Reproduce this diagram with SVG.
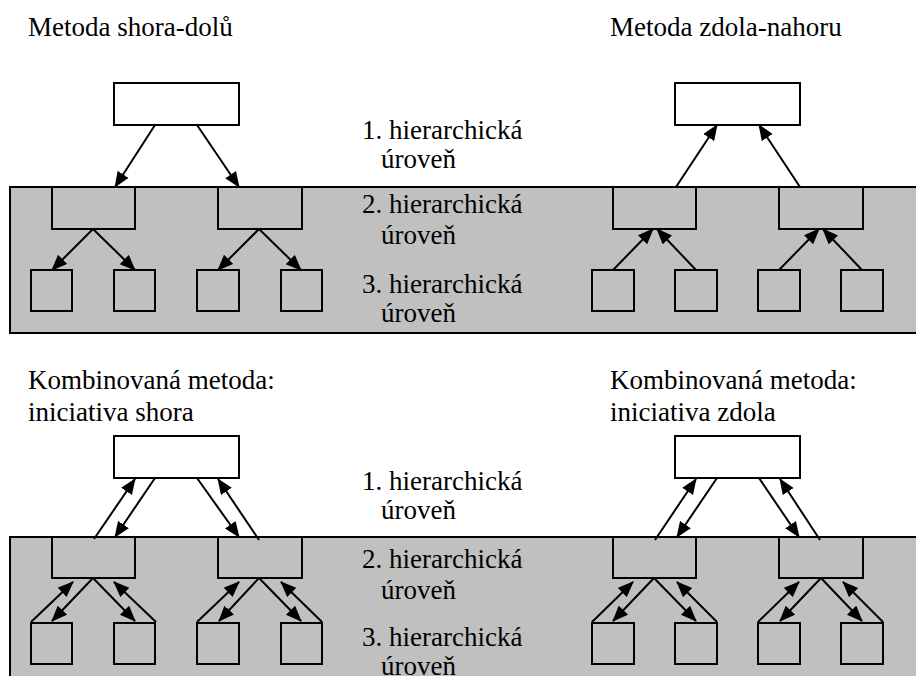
<svg xmlns="http://www.w3.org/2000/svg" width="916" height="676" viewBox="0 0 916 676">
  <style>
    .band { fill: #c0c0c0; stroke: #000; stroke-width: 2; }
    .top { fill: #fff; stroke: #000; stroke-width: 2; }
    .box { fill: #c0c0c0; stroke: #000; stroke-width: 2; }
    .arr { stroke: #000; stroke-width: 2; fill: none; marker-end: url(#head); }
    .lbl { font-family: 'Liberation Serif', 'DejaVu Serif', serif; font-size: 27px; fill: #000; }
  </style>
  <defs>
    <marker id="head" markerUnits="userSpaceOnUse" markerWidth="18" markerHeight="14" refX="15" refY="6.5" orient="auto">
      <path d="M0,0 L16,6.5 L0,13 Z" fill="#000"/>
    </marker>
  </defs>

  <!-- shaded bands for levels 2 and 3 -->
  <g id="bands">
    <rect class="band" x="10" y="187" width="920" height="146"/>
    <rect class="band" x="10" y="537" width="920" height="160"/>
  </g>

  <!-- headings -->
  <g id="headings" class="lbl">
    <text x="28" y="36">Metoda shora-dolů</text>
    <text x="610" y="36">Metoda zdola-nahoru</text>
    <text x="28" y="389">Kombinovaná metoda:</text>
    <text x="28" y="421">iniciativa shora</text>
    <text x="610" y="389">Kombinovaná metoda:</text>
    <text x="610" y="421">iniciativa zdola</text>
  </g>

  <!-- level labels -->
  <g id="levels" class="lbl">
    <text x="362" y="139">1. hierarchická</text>
    <text x="381" y="168">úroveň</text>
    <text x="362" y="213">2. hierarchická</text>
    <text x="381" y="244">úroveň</text>
    <text x="362" y="293">3. hierarchická</text>
    <text x="381" y="322">úroveň</text>
    <text x="362" y="490">1. hierarchická</text>
    <text x="381" y="519">úroveň</text>
    <text x="362" y="568">2. hierarchická</text>
    <text x="381" y="599">úroveň</text>
    <text x="362" y="646">3. hierarchická</text>
    <text x="381" y="675">úroveň</text>
  </g>

  <!-- top-down tree -->
  <g id="td-root"><rect class="top" x="114" y="83" width="125" height="42"/></g>
  <g id="td-a"><rect class="box" x="52" y="187" width="83" height="42"/></g>
  <g id="td-b"><rect class="box" x="218" y="187" width="84" height="42"/></g>
  <g id="td-a1"><rect class="box" x="31" y="270" width="41" height="41"/></g>
  <g id="td-a2"><rect class="box" x="114" y="270" width="41" height="41"/></g>
  <g id="td-b1"><rect class="box" x="197" y="270" width="42" height="41"/></g>
  <g id="td-b2"><rect class="box" x="281" y="270" width="41" height="41"/></g>

  <!-- bottom-up tree -->
  <g id="bu-root"><rect class="top" x="675" y="83" width="125" height="42"/></g>
  <g id="bu-a"><rect class="box" x="613" y="187" width="83" height="42"/></g>
  <g id="bu-b"><rect class="box" x="779" y="187" width="84" height="42"/></g>
  <g id="bu-a1"><rect class="box" x="592" y="270" width="42" height="41"/></g>
  <g id="bu-a2"><rect class="box" x="675" y="270" width="42" height="41"/></g>
  <g id="bu-b1"><rect class="box" x="758" y="270" width="42" height="41"/></g>
  <g id="bu-b2"><rect class="box" x="841" y="270" width="42" height="41"/></g>

  <!-- combined, initiative from above -->
  <g id="ct-root"><rect class="top" x="114" y="436" width="125" height="42"/></g>
  <g id="ct-a"><rect class="box" x="52" y="537" width="83" height="41"/></g>
  <g id="ct-b"><rect class="box" x="218" y="537" width="84" height="41"/></g>
  <g id="ct-a1"><rect class="box" x="31" y="623" width="41" height="41"/></g>
  <g id="ct-a2"><rect class="box" x="114" y="623" width="41" height="41"/></g>
  <g id="ct-b1"><rect class="box" x="197" y="623" width="42" height="41"/></g>
  <g id="ct-b2"><rect class="box" x="281" y="623" width="41" height="41"/></g>

  <!-- combined, initiative from below -->
  <g id="cb-root"><rect class="top" x="675" y="436" width="125" height="42"/></g>
  <g id="cb-a"><rect class="box" x="613" y="537" width="83" height="41"/></g>
  <g id="cb-b"><rect class="box" x="779" y="537" width="84" height="41"/></g>
  <g id="cb-a1"><rect class="box" x="592" y="623" width="42" height="41"/></g>
  <g id="cb-a2"><rect class="box" x="675" y="623" width="42" height="41"/></g>
  <g id="cb-b1"><rect class="box" x="758" y="623" width="42" height="41"/></g>
  <g id="cb-b2"><rect class="box" x="841" y="623" width="42" height="41"/></g>

  <!-- connectors -->
  <g id="connectors">
    <!-- top-down -->
    <line class="arr" x1="155" y1="125" x2="115" y2="187"/>
    <line class="arr" x1="197" y1="125" x2="239" y2="187"/>
    <line class="arr" x1="93" y1="229" x2="52" y2="270"/>
    <line class="arr" x1="93" y1="229" x2="135" y2="270"/>
    <line class="arr" x1="259" y1="229" x2="218" y2="270"/>
    <line class="arr" x1="259" y1="229" x2="301" y2="270"/>

    <!-- bottom-up -->
    <line class="arr" x1="676" y1="187" x2="717" y2="125"/>
    <line class="arr" x1="800" y1="187" x2="759" y2="125"/>
    <line class="arr" x1="613" y1="270" x2="653" y2="229"/>
    <line class="arr" x1="696" y1="270" x2="657" y2="229"/>
    <line class="arr" x1="779" y1="270" x2="819" y2="229"/>
    <line class="arr" x1="862" y1="270" x2="823" y2="229"/>

    <!-- combined, from above -->
    <line class="arr" x1="94" y1="539" x2="135" y2="479"/>
    <line class="arr" x1="155" y1="478" x2="115" y2="537"/>
    <line class="arr" x1="197" y1="478" x2="239" y2="537"/>
    <line class="arr" x1="259" y1="540" x2="218" y2="479"/>
    <line class="arr" x1="31" y1="622" x2="73" y2="582"/>
    <line class="arr" x1="93" y1="578" x2="52" y2="621"/>
    <line class="arr" x1="93" y1="578" x2="135" y2="621"/>
    <line class="arr" x1="156" y1="622" x2="114" y2="582"/>
    <line class="arr" x1="197" y1="622" x2="239" y2="582"/>
    <line class="arr" x1="259" y1="578" x2="219" y2="621"/>
    <line class="arr" x1="259" y1="578" x2="301" y2="621"/>
    <line class="arr" x1="322" y1="622" x2="281" y2="582"/>

    <!-- combined, from below -->
    <line class="arr" x1="655" y1="540" x2="696" y2="479"/>
    <line class="arr" x1="717" y1="478" x2="677" y2="537"/>
    <line class="arr" x1="759" y1="478" x2="799" y2="537"/>
    <line class="arr" x1="820" y1="540" x2="780" y2="479"/>
    <line class="arr" x1="592" y1="622" x2="633" y2="582"/>
    <line class="arr" x1="654" y1="578" x2="613" y2="621"/>
    <line class="arr" x1="654" y1="578" x2="696" y2="621"/>
    <line class="arr" x1="717" y1="622" x2="677" y2="582"/>
    <line class="arr" x1="758" y1="622" x2="799" y2="582"/>
    <line class="arr" x1="821" y1="578" x2="780" y2="621"/>
    <line class="arr" x1="821" y1="578" x2="862" y2="621"/>
    <line class="arr" x1="883" y1="622" x2="843" y2="582"/>
  </g>
</svg>
